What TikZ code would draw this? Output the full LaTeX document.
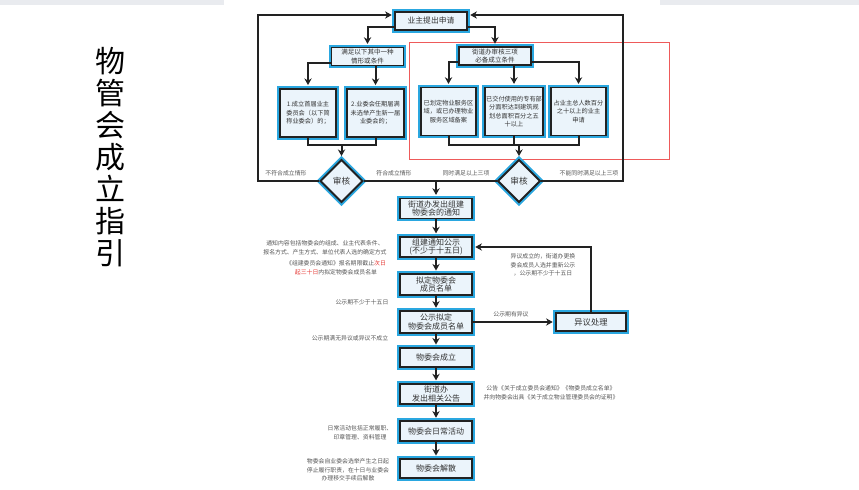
\documentclass[tikz,border=0pt]{standalone}
\usepackage{fontspec}
\setmainfont{Noto Sans CJK SC}
\usetikzlibrary{shapes.geometric,arrows.meta}
\definecolor{boxfill}{HTML}{EBF4FB}
\definecolor{glow}{HTML}{2AA7E0}
\definecolor{ink}{HTML}{222222}
\definecolor{txt}{HTML}{333333}
\definecolor{notec}{HTML}{555555}
\definecolor{redline}{HTML}{EE5A5A}
\definecolor{rednote}{HTML}{E53935}
\definecolor{band}{HTML}{E9EBEF}
\tikzset{
  box/.style={rectangle, fill=boxfill, draw=ink, line width=1.4pt,
    preaction={draw=glow, line width=4.4pt}, text=txt, align=center, inner sep=0pt},
  mainbox/.style={box, minimum width=53.5pt, minimum height=15pt,
    font=\fontsize{6pt}{6.6pt}\selectfont},
  condbox/.style={box, font=\fontsize{4.65pt}{6.3pt}\selectfont},
  groupbox/.style={box, font=\fontsize{4.9pt}{6.2pt}\selectfont},
  check/.style={diamond, aspect=1, minimum width=32pt, minimum height=32pt,
    inner sep=0pt, fill=boxfill, draw=ink, line width=1.4pt,
    preaction={draw=glow, line width=4.4pt}, text=txt,
    font=\fontsize{6.5pt}{7pt}\selectfont},
  notetext/.style={text=notec, align=center, inner sep=0pt,
    font=\fontsize{4.4pt}{6.5pt}\selectfont},
  titletext/.style={align=center, inner sep=0pt, text=black,
    font=\fontsize{22.5pt}{24pt}\selectfont},
  conn/.style={draw=ink, line width=1.5pt},
  arr/.style={conn, -{Stealth[length=5pt,width=5.5pt]}, shorten >=2pt},
}
\begin{document}
\begin{tikzpicture}[x=0.75pt,y=-0.75pt]
\useasboundingbox (0,0) rectangle (859,489);
\fill[band] (0,0) rectangle (224,5);
\fill[band] (660,0) rectangle (859,5);

\node[titletext] (ttl) at (110,157.5) {物\\管\\会\\成\\立\\指\\引};

\draw[redline, line width=0.75pt] (409,42) rectangle (669,159);

% top part
\node[mainbox, minimum height=14pt, font=\fontsize{5.85pt}{6.5pt}\selectfont] (top) at (431,21) {业主提出申请};
\node[groupbox, minimum width=54pt, minimum height=13.5pt] (lg) at (367.5,56.5) {满足以下其中一种\\情形或条件};
\node[groupbox, minimum width=53.5pt, minimum height=13pt] (rg) at (495,56) {街道办审核三项\\必备成立条件};

\node[condbox, minimum width=42.5pt, minimum height=36.5pt] (c1) at (308,113) {1.成立首届业主\\委员会（以下简\\称业委会）的；};
\node[condbox, minimum width=43.25pt, minimum height=36.5pt] (c2) at (375.5,113) {2.业委会任期届满\\未选举产生新一届\\业委会的；};

\node[condbox, minimum width=41.75pt, minimum height=36pt] (r1) at (448.5,111.5) {已划定物业服务区\\域，或已办理物业\\服务区域备案};
\node[condbox, minimum width=44pt, minimum height=36pt] (r2) at (514,111.5) {已交付使用的专有部\\分面积达到建筑规\\划总面积百分之五\\十以上};
\node[condbox, minimum width=41.75pt, minimum height=36pt] (r3) at (578.5,111.5) {占业主总人数百分\\之十以上的业主\\申请};

\node[check] (d1) at (341.5,181) {审核};
\node[check] (d2) at (519,181) {审核};

% main column
\node[mainbox] (b1) at (436,208.5) {街道办发出组建\\物委会的通知};
\node[mainbox] (b2) at (436,247) {组建通知公示\\(不少于十五日)};
\node[mainbox, minimum height=15.5pt] (b3) at (436,284.5) {拟定物委会\\成员名单};
\node[mainbox, minimum height=16pt] (b4) at (436,322) {公示拟定\\物委会成员名单};
\node[mainbox, minimum height=14pt] (b5) at (436,357.5) {物委会成立};
\node[mainbox] (b6) at (436,394) {街道办\\发出相关公告};
\node[mainbox, minimum height=14.5pt] (b7) at (436,431) {物委会日常活动};
\node[mainbox, minimum height=14pt] (b8) at (436,468.5) {物委会解散};
\node[mainbox, minimum width=52pt, minimum height=14pt, font=\fontsize{6.2pt}{7pt}\selectfont] (yc) at (591,322) {异议处理};

% helper coordinates
\coordinate (lm) at (341.5,145);
\coordinate (rm) at (519,145);
\coordinate (ll) at (258,181);
\coordinate (rl) at (623,181);

% connectors: top
\draw[arr] ([yshift=-4.5pt]top.west) -| (lg.north);
\draw[arr] ([yshift=-4.5pt]top.east) -| (rg.north);
\draw[arr] ([yshift=-4.5pt]lg.west) -| (c1.north);
\draw[arr] (lg.south -| c2.north) -- (c2.north);
\draw[arr] ([yshift=-4.5pt]rg.west) -| (r1.north);
\draw[arr] (rg.south -| r2.north) -- (r2.north);
\draw[arr] ([yshift=-4.5pt]rg.east) -| (r3.north);

% merges
\draw[conn] (c1.south) |- (lm) -| (c2.south);
\draw[arr] (lm) -- (d1.north);
\draw[conn] (r1.south) |- (rm) -| (r3.south);
\draw[conn] (r2.south) -- (r2.south |- rm);
\draw[arr] (rm) -- (d2.north);

% loops back to top
\draw[arr] (d1.west) -- (ll) |- ([yshift=4.5pt]top.west);
\draw[arr] (d2.east) -- (rl) |- ([yshift=4.5pt]top.east);

% to main column
\draw[conn] (d1.east) -- (d2.west);
\draw[arr] (b1.north |- d1.east) -- (b1.north);
\draw[arr] (b1.south) -- (b2.north);
\draw[arr] (b2.south) -- (b3.north);
\draw[arr] (b3.south) -- (b4.north);
\draw[arr] (b4.south) -- (b5.north);
\draw[arr] (b5.south) -- (b6.north);
\draw[arr] (b6.south) -- (b7.north);
\draw[arr] (b7.south) -- (b8.north);

% objection loop
\draw[arr] (b4.east) -- (yc.west);
\draw[arr] (yc.north) |- (b2.east);

% labels
\node[notetext] (n1) at (286,173) {不符合成立情形};
\node[notetext] (n2) at (394,173) {符合成立情形};
\node[notetext] (n3) at (466,173) {同时满足以上三项};
\node[notetext] (n4) at (589,173) {不能同时满足以上三项};
\node[notetext] (n5) at (325,247.5) {通知内容包括物委会的组成、业主代表条件、\\报名方式、产生方式、单位代表人选的确定方式};
\node[notetext] (n6) at (336,267.5) {《组建委员会通知》报名期限截止\textcolor{rednote}{次日}\\\textcolor{rednote}{起三十日}内拟定物委会成员名单};
\node[notetext] (n7) at (362,302) {公示期不少于十五日};
\node[notetext] (n8) at (350,338.5) {公示期满无异议或异议不成立};
\node[notetext] (n9) at (543,265) {异议成立的，街道办更换\\委会成员人选并重新公示\\，公示期不少于十五日};
\node[notetext] (n10) at (511,314) {公示期有异议};
\node[notetext] (n11) at (360,433) {日常活动包括正常履职、\\印章管理、资料管理};
\node[notetext] (n12) at (348,470) {物委会自业委会选举产生之日起\\停止履行职责，在十日与业委会\\办理移交手续后解散};
\node[notetext] (n13) at (551,393) {公告《关于成立委员会通知》《物委员成立名单》\\并向物委会出具《关于成立物业管理委员会的证明》};
\end{tikzpicture}
\end{document}
